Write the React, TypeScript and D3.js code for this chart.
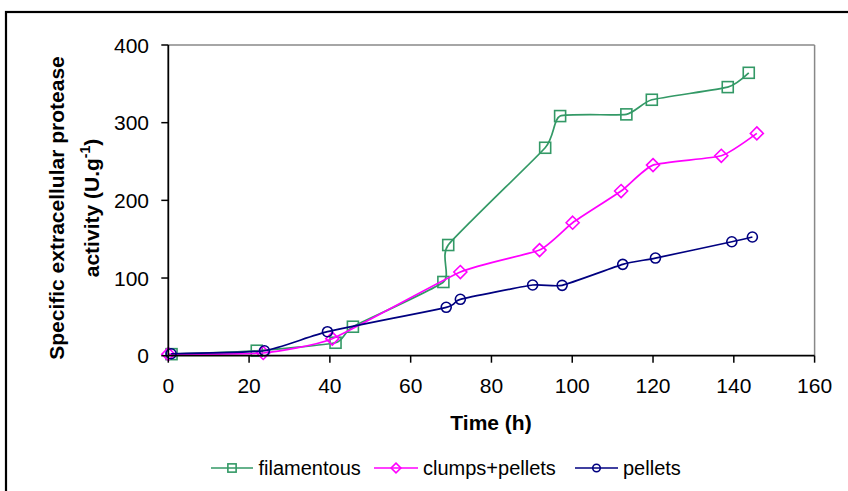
import React from "react";
import * as d3 from "d3";

const filamentousX = [0.8, 21.9, 41.4, 45.7, 68.1, 69.3, 93.3, 97.0, 113.4, 119.7, 138.5, 143.7];
const filamentousY = [2, 6.4, 16.7, 37.3, 94.9, 142.5, 267.7, 308.5, 310.7, 329.5, 345.8, 364.2];
const clumpsX = [0, 23.5, 40.6, 72.3, 91.9, 100.1, 112.1, 120.0, 136.9, 145.7];
const clumpsY = [2, 3.5, 21.9, 107.7, 136, 171.2, 212, 245.4, 257.4, 286.2];
const pelletsX = [0.7, 23.8, 39.4, 68.8, 72.3, 90.2, 97.5, 112.5, 120.6, 139.5, 144.6];
const pelletsY = [2.5, 6.4, 30.9, 62.3, 72.6, 91, 90.6, 117.6, 125.7, 146.7, 152.8];
const xTicks = [0, 20, 40, 60, 80, 100, 120, 140, 160];
const yTicks = [0, 100, 200, 300, 400];
const seriesNames = ["filamentous", "clumps+pellets", "pellets"];
const seriesColors = ["#339966", "#FF00FF", "#000080"];
const seriesMarkers = ["square", "diamond", "circle"];

const W = 848;
const H = 491;
const left = 168.3;
const right = 814.6;
const top = 45;
const bottom = 355.7;
const FONT = "'Liberation Sans', Arial, sans-serif";

function Marker({ type, x, y, color, s = 1 }: { type: string; x: number; y: number; color: string; s?: number }) {
  if (type === "square") {
    const h = 5.5 * s;
    return <rect x={x - h} y={y - h} width={2 * h} height={2 * h} fill="none" stroke={color} strokeWidth={1.6} />;
  }
  if (type === "diamond") {
    const h = 6.5 * s;
    return (
      <path
        d={`M${x},${y - h}L${x + h},${y}L${x},${y + h}L${x - h},${y}Z`}
        fill="none"
        stroke={color}
        strokeWidth={1.6}
      />
    );
  }
  return <circle cx={x} cy={y} r={5 * s} fill="none" stroke={color} strokeWidth={1.6} />;
}

export default function App() {
  const x = d3.scaleLinear().domain([0, 160]).range([left, right]);
  const y = d3.scaleLinear().domain([0, 400]).range([bottom, top]);
  const line = d3
    .line<[number, number]>()
    .x((d) => x(d[0]))
    .y((d) => y(d[1]))
    .curve(d3.curveCardinal.tension(0.5));

  const series = [
    d3.zip(filamentousX, filamentousY) as [number, number][],
    d3.zip(clumpsX, clumpsY) as [number, number][],
    d3.zip(pelletsX, pelletsY) as [number, number][],
  ];

  const legendItems = [
    { lx1: 211, lx2: 253, tx: 258.5 },
    { lx1: 374, lx2: 418, tx: 423 },
    { lx1: 575, lx2: 618, tx: 623 },
  ];
  const legendY = 468;

  return (
    <svg
      width={W}
      height={H}
      style={{ position: "absolute", left: 0, top: 0, background: "#fff" }}
      fontFamily={FONT}
    >
      <rect x={0} y={0} width={W} height={H} fill="#fff" />
      <rect x={6} y={12} width={W + 20} height={H + 20} fill="none" stroke="#000" strokeWidth={2.2} />

      {/* plot frame top/right */}
      <line x1={left} x2={right} y1={top} y2={top} stroke="#888" strokeWidth={1.5} />
      <line x1={right} x2={right} y1={top} y2={bottom} stroke="#888" strokeWidth={1.5} />

      {/* series */}
      {series.map((s, i) => (
        <g key={seriesNames[i]}>
          <path d={line(s) || ""} fill="none" stroke={seriesColors[i]} strokeWidth={1.7} />
          {s.map((d, j) => (
            <Marker key={j} type={seriesMarkers[i]} x={x(d[0])} y={y(d[1])} color={seriesColors[i]} />
          ))}
        </g>
      ))}

      {/* axes */}
      <line x1={left} x2={left} y1={top} y2={bottom} stroke="#000" strokeWidth={1.8} />
      <line x1={left} x2={right} y1={bottom} y2={bottom} stroke="#000" strokeWidth={1.8} />
      {yTicks.map((t) => (
        <g key={"y" + t}>
          <line x1={left - 7} x2={left} y1={y(t)} y2={y(t)} stroke="#000" strokeWidth={1.5} />
          <text x={149} y={y(t) + 7.5} textAnchor="end" fontSize={21} fill="#000">
            {t}
          </text>
        </g>
      ))}
      {xTicks.map((t) => (
        <g key={"x" + t}>
          <line x1={x(t)} x2={x(t)} y1={bottom} y2={bottom + 7} stroke="#000" strokeWidth={1.5} />
          <text x={x(t)} y={393} textAnchor="middle" fontSize={21} fill="#000">
            {t}
          </text>
        </g>
      ))}

      {/* axis titles */}
      <text x={491} y={429.5} textAnchor="middle" fontSize={21} fontWeight="bold" fill="#000">
        Time (h)
      </text>
      <g transform="translate(64,208) rotate(-90)">
        <text x={0} y={0} textAnchor="middle" fontSize={21} fontWeight="bold" fill="#000">
          Specific extracellular protease
        </text>
        <text x={0} y={35} textAnchor="middle" fontSize={21} fontWeight="bold" fill="#000">
          activity (U.g
          <tspan fontSize={14} dy={-9}>-1</tspan>
          <tspan dy={9}>)</tspan>
        </text>
      </g>

      {/* legend */}
      {legendItems.map((it, i) => (
        <g key={"lg" + i}>
          <line x1={it.lx1} x2={it.lx2} y1={legendY} y2={legendY} stroke={seriesColors[i]} strokeWidth={1.7} />
          <Marker type={seriesMarkers[i]} x={(it.lx1 + it.lx2) / 2} y={legendY} color={seriesColors[i]} s={0.75} />
          <text x={it.tx} y={475} fontSize={20} fill="#000">
            {seriesNames[i]}
          </text>
        </g>
      ))}
    </svg>
  );
}
